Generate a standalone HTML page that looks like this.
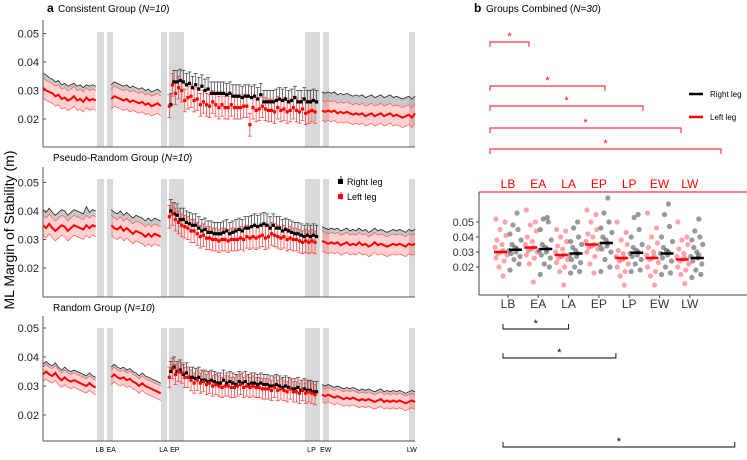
<!DOCTYPE html>
<html><head><meta charset="utf-8"><style>
body{margin:0;background:#fff;font-family:"Liberation Sans",sans-serif}
svg text{font-family:"Liberation Sans",sans-serif}
</style></head><body>
<svg id="fig" width="747" height="455" viewBox="0 0 747 455">
<text x="47" y="12" font-size="12" font-weight="bold">a</text>
<text x="58" y="12" font-size="10">Consistent Group (<tspan font-style="italic">N=10</tspan>)</text>
<text x="53" y="161" font-size="10">Pseudo-Random Group (<tspan font-style="italic">N=10</tspan>)</text>
<text x="53" y="311" font-size="10">Random Group (<tspan font-style="italic">N=10</tspan>)</text>
<text x="14" y="230" font-size="14" text-anchor="middle" transform="rotate(-90 14 230)">ML Margin of Stability (m)</text>
<text x="474" y="12" font-size="12" font-weight="bold">b</text>
<text x="486" y="12" font-size="10">Groups Combined (<tspan font-style="italic">N=30</tspan>)</text>
<g>
<line x1="689" y1="94" x2="703" y2="94" stroke="#000" stroke-width="2.5"/><text x="710" y="97" font-size="8">Right leg</text>
<line x1="689" y1="117" x2="703" y2="117" stroke="#f00" stroke-width="2.5"/><text x="710" y="120" font-size="8">Left leg</text>
</g>
<g>
<line x1="341" y1="176" x2="341" y2="184" stroke="#000" stroke-width="0.8"/><rect x="338" y="179" width="5" height="5" fill="#000"/>
<text x="347" y="185" font-size="9">Right leg</text>
<line x1="341" y1="192" x2="341" y2="200" stroke="#f00" stroke-width="0.8"/><rect x="338" y="194" width="5" height="5" fill="#f00"/>
<text x="347" y="200" font-size="9">Left leg</text>
</g>
</svg>
<script>
const NS='http://www.w3.org/2000/svg';
const svg=document.getElementById('fig');
function mk(tag,at,parent){const e=document.createElementNS(NS,tag);for(const k in at)e.setAttribute(k,at[k]);(parent||svg).appendChild(e);return e;}

// ---------- Panel a data (values in mm, i.e. 0.001 m) ----------
const p1Seg1L=[31,30,29.5,29,28,28.5,27,27.5,26.5,27,28,26.5,27,26,27.5,26.5,27,26.5];
const p1Seg1R=[32.5,32,31,30.5,29.5,30,28.5,29,28,28.5,29,28,28.5,27.5,28.5,28,28.5,28];
const p1Seg2L=[27,28,27.5,27,26.5,27,26,26.5,26,25.5,26,25,25.5,24.5,25,25.5,24.5];
const p1Seg2R=[28.5,29.5,29,28.5,28,28.5,27.5,28,27.5,27,27.5,26.5,27,26,26.5,27,26];
const p1DotL=[24.5,32,29,31,30,26.5,27.5,28,26.5,27,25,26,25,24.5,26,25,24,25,24,24,25,24,24,24,24.5,24.5,18,24,23,23.5,24.5,23.5,23,23,22.5,24,23,23.5,22.5,23,24,23,22.5,23.5,22,22.5,23,22.5];
const p1DotR=[25,33,33,33.5,33,32,32.5,31,32,30.5,31.5,30,30.5,29,29,29,29,29,28.5,29,28,28,28,27.5,28,28,27.5,28,27,28.5,26,26,26,26,26.5,27,26.5,27,26,26.5,27.5,26,26,27,26,26,26.5,26];
const p1Seg4L=[23,22.5,23,22.5,23,22,22.5,22,22.5,22,21.5,22,21.5,22,21,21.5,22,21,21.5,22,21,21.5,22,21,21.5,21,20.5,21,21.5,20.5,22];
const p1Seg4R=[26,25.5,26,25.5,26,25,25.5,25,25.5,25,24.5,25,24.5,25,24,24.5,25,24,24.5,25,24,24.5,25,24,24.5,24,23.5,24,24.5,23.5,24.5];

const p2Seg1L=[35,34,35.5,34,33,34,35,34.5,33,34,35,34.5,34,33.5,35,34,35,34.5];
const p2Seg1R=[37,36,37.5,36,35,36,37,36.5,35,36,37,36.5,36,35.5,38,36,37,36.5];
const p2Seg2L=[35,34,33.5,34.5,33,34,33,32,33,32.5,32,31,32,31,32,31.5,31];
const p2Seg2R=[37,36,35.5,36.5,35,36,35,34,35,34.5,34,33,34,33,34,33.5,33];
const p2DotL=[38,39,37,36,35,34.5,34,33,33,32,31,31.5,30.5,30.5,30,30,29.5,30,30,29.5,30,30,30,30.5,30,31,30.5,31,30.5,31,31.5,30.5,31,32,31.5,31,30.5,31,30,30.5,30,30,29.5,29,29.5,29,29.5,29];
const p2DotR=[40,39,38.5,37,37,36,35.5,35,35,34,33,33.5,32.5,32.5,32,32,32,32.5,33,32,32.5,33,33.5,33,34,34,34.5,35,34.5,35,35.5,35,34,35,34,34,33,33.5,33,32.5,32,32,31.5,31,31.5,31,31.5,31];
const p2Seg4L=[29.5,29,28.5,29,28.5,29,28,28.5,29,28,28.5,28,29,28,28.5,27.5,28,29,28,28.5,28,27.5,28,28.5,28,28.5,28,27.5,28.5,28,28.5];
const p2Seg4R=[31,30.5,30,30.5,30,30.5,29.5,30,30.5,29.5,30,29.5,30.5,29.5,30,29,29.5,30.5,29.5,30,29.5,29,29.5,30,29.5,30,29.5,29,30,29.5,30];

const p3Seg1L=[34,35,34,33.5,34.5,33,32,33,32,31.5,32,31.5,31,30.5,30,31,30,29.5];
const p3Seg1R=[35,36,35,34.5,35.5,34,33,34,33,32.5,33,32.5,32,31.5,31,32,31,30.5];
const p3Seg2L=[33,34,33,32.5,33,32,32.5,31.5,31,30,31,30,29.5,29,28.5,28,27.5];
const p3Seg2R=[34,35,34,33.5,34,33,33.5,32.5,32,31,32,31,30.5,30,29.5,29,28.5];
const p3DotL=[33,36,34,35,34.5,33,33,32,31,32,31,31.5,30.5,31,30,30.5,30,29.5,30,30,29.5,29.5,30,30.5,29.5,30,29.5,30,29.5,29.5,29,29,29,28.5,29.5,28.5,29,28.5,28,29,28,28,27.5,28.5,27.5,28,27.5,27];
const p3DotR=[35,36.5,35,35.5,34,34.5,33,33,32.5,33,32,32,31.5,32,31.5,31,31,32,31,31.5,31,30.5,31.5,31,31.5,30.5,31,31,30.5,31,30.5,30.5,30,30,30.5,30,29.5,30,29.5,29,29,29.5,28.5,29,28.5,28.5,28,28];
const p3Seg4L=[27,26.5,27,26.5,26,26.5,26,25.5,26,25.5,26,25.5,25,25.5,25,25.5,25,24.5,25,25.5,24.5,25,24.5,25,24.5,25,24.5,24,24.5,25,24.5];
const p3Seg4R=[28,27.5,28,27.5,27,27.5,27,26.5,27,26.5,27,26.5,26,26.5,26,26.5,26,25.5,26,26.5,25.5,26,25.5,26,25.5,26,25.5,25,25.5,26,25.5];

const bandSD=[3.5,3.5,2.5];
const dotSD=[4,4,3.5];
const yTicks=[20,30,40,50];
const yTickLabels=['0.02','0.03','0.04','0.05'];
const phaseLabels=['LB','EA','LA','EP','LP','EW','LW'];
const phaseTrials=[18.3,22,38.9,42.5,86.6,91.2,119];

const panels=[
 {name:'consistent',top:20,bot:147,y20:119,k:2.85,s1:[p1Seg1L,p1Seg1R],s2:[p1Seg2L,p1Seg2R],d:[p1DotL,p1DotR],s4:[p1Seg4L,p1Seg4R]},
 {name:'pseudo-random',top:167,bot:297,y20:268,k:2.85,s1:[p2Seg1L,p2Seg1R],s2:[p2Seg2L,p2Seg2R],d:[p2DotL,p2DotR],s4:[p2Seg4L,p2Seg4R]},
 {name:'random',top:316,bot:441,y20:415,k:2.9,s1:[p3Seg1L,p3Seg1R],s2:[p3Seg2L,p3Seg2R],d:[p3DotL,p3DotR],s4:[p3Seg4L,p3Seg4R]}
];
const X0=43,X1=415;
const xT=t=>X0+t*3.1;
const grayBars=[[97,104],[107,113],[161,167],[169,184],[305,320],[323,329],[409,415]];

panels.forEach((P,pi)=>{
 const yS=v=>P.y20-(v-20)*P.k;
 const g=mk('g',{});
 
 
 const gt=P.top+12;
 grayBars.forEach(b=>{const r=mk('rect',{x:b[0],y:gt,width:b[1]-b[0],height:P.bot-gt,fill:'#d9d9d9'},g);
  
  });
 const sd=bandSD[pi];
 [[P.s1,0],[P.s2,22],[P.s4,90]].forEach(([s,t0])=>{
  const L=s[0],R=s[1];
  const up=L.map((v,i)=>[xT(t0+i),yS(v+sd)]);
  const lo=L.map((v,i)=>[xT(t0+i),yS(v-sd)]);
  const rup=R.map((v,i)=>[xT(t0+i),yS(v+sd)]);
  const pts=a=>a.map(p=>p[0].toFixed(1)+','+p[1].toFixed(1)).join(' ');
  const gf=mk('polygon',{points:pts(rup)+' '+pts(up.slice().reverse()),fill:'#9a9a9a','fill-opacity':0.55},g);
  
  
  const rf=mk('polygon',{points:pts(up)+' '+pts(lo.slice().reverse()),fill:'#ff0000','fill-opacity':0.18},g);
  
  
  mk('polyline',{points:pts(rup),fill:'none',stroke:'#222','stroke-width':0.8},g);
  mk('polyline',{points:pts(up),fill:'none',stroke:'#f44','stroke-width':0.6},g);
  mk('polyline',{points:pts(lo),fill:'none',stroke:'#f44','stroke-width':0.6},g);
  const ml=mk('polyline',{points:pts(L.map((v,i)=>[xT(t0+i),yS(v)])),fill:'none',stroke:'#f00','stroke-width':2},g);
  
  
 });
 const es=dotSD[pi];
 P.d[1].forEach((v,i)=>{const x=xT(41+i)+0.8;
  mk('line',{x1:x,y1:yS(v),x2:x,y2:yS(v+es),stroke:'#333','stroke-width':0.7},g);
  mk('line',{x1:x-2,y1:yS(v+es),x2:x+2,y2:yS(v+es),stroke:'#333','stroke-width':0.7},g);
 });
 P.d[0].forEach((v,i)=>{const x=xT(41+i)-0.8;
  mk('line',{x1:x,y1:yS(v+es),x2:x,y2:yS(v-es),stroke:'#f33','stroke-width':0.7},g);
  mk('line',{x1:x-2,y1:yS(v-es),x2:x+2,y2:yS(v-es),stroke:'#f33','stroke-width':0.7},g);
  mk('line',{x1:x-2,y1:yS(v+es),x2:x+2,y2:yS(v+es),stroke:'#f33','stroke-width':0.7},g);
 });
 P.d[1].forEach((v,i)=>{const r=mk('rect',{x:xT(41+i)+0.8-1.6,y:yS(v)-1.6,width:3.2,height:3.2,fill:'#000'},g);
  
  });
 P.d[0].forEach((v,i)=>{const r=mk('rect',{x:xT(41+i)-0.8-1.6,y:yS(v)-1.6,width:3.2,height:3.2,fill:'#f00'},g);
  
  });
 mk('line',{x1:X0,y1:P.top,x2:X0,y2:P.bot,stroke:'#555','stroke-width':1},g);
 mk('line',{x1:X0,y1:P.bot,x2:X1,y2:P.bot,stroke:'#555','stroke-width':1},g);
 yTicks.forEach((t,i)=>{mk('line',{x1:X0,y1:yS(t),x2:X0+3,y2:yS(t),stroke:'#555'},g);
  const tx=mk('text',{x:X0-4,y:yS(t)+4,'font-size':11,'text-anchor':'end',fill:'#222'},g);tx.textContent=yTickLabels[i];
  
  });
 if(pi===2){phaseLabels.forEach((l,i)=>{const tx=mk('text',{x:xT(phaseTrials[i]),y:452,'font-size':7,'text-anchor':'middle'},g);tx.textContent=l;
  
  });}
});

// ---------- Panel b data ----------
const cats=['LB','EA','LA','EP','LP','EW','LW'];
const leftMeans=[30,33,28,35,26,26,25];
const rightMeans=[31.5,32,29,36,29.5,29,26];
const leftPts=[[52,50,45,41,38,35,33,31,30,29,28,26,24,20,14],[58,50,48,44,40,37,35,33,32,31,30,28,26,22,10],[45,44,40,37,34,32,30,28,27,26,25,23,20,17,8],[58,55,50,45,42,40,37,35,34,33,32,30,27,22,16],[50,43,38,35,31,29,27,26,25,24,22,20,17,14,8],[56,46,40,36,33,30,28,27,26,25,23,20,17,14,8],[50,40,38,35,32,29,27,26,25,24,22,20,18,15,9]];
const rightPts=[[56,48,45,42,38,35,33,32,31,30,29,27,25,22,18],[53,52,50,45,38,35,33,32,31,30,28,26,22,20,15],[50,46,40,37,35,33,31,29,28,27,25,23,20,17,16],[66,56,50,46,43,40,38,36,35,34,32,30,25,20,17],[55,53,45,40,35,33,31,30,29,28,27,25,22,18,17],[62,55,47,40,37,33,31,30,29,28,26,24,20,16,15],[52,44,40,38,35,33,30,28,27,26,24,22,18,15,13]];
const topSig=[[0,1],[0,3],[0,4],[0,5],[0,6]];
const botSig=[[0,2],[0,3],[0,6]];

const bx=i=>508+i*30.3;
const by=v=>267-(v-20)*1.5;
const jit=[-5,4,-1,5,-4,1,-6,2,0,-3,6,-5,3,-2,2];
const gb=mk('g',{});


mk('line',{x1:479,y1:192,x2:747,y2:192,stroke:'#f00','stroke-width':1},gb);
mk('line',{x1:479,y1:192,x2:479,y2:295,stroke:'#444'},gb);
mk('line',{x1:479,y1:295,x2:747,y2:295,stroke:'#444'},gb);
yTicks.forEach((t,i)=>{mk('line',{x1:476,y1:by(t),x2:479,y2:by(t),stroke:'#444'},gb);
 const tx=mk('text',{x:474,y:by(t)+4,'font-size':11,'text-anchor':'end',fill:'#333'},gb);tx.textContent=yTickLabels[i];
 
 });
cats.forEach((c,i)=>{
 const t1=mk('text',{x:bx(i),y:188,'font-size':12,'text-anchor':'middle',fill:'#f00'},gb);t1.textContent=c;
 
 
 const t2=mk('text',{x:bx(i),y:308,'font-size':12,'text-anchor':'middle',fill:'#333'},gb);t2.textContent=c;
 
 
 mk('line',{x1:bx(i),y1:295,x2:bx(i),y2:298,stroke:'#444'},gb);
 leftPts[i].forEach((v,j)=>{const d=mk('circle',{cx:bx(i)-7+jit[j],cy:by(v),r:2.6,fill:'#ff3040','fill-opacity':0.45},gb);
  
  });
 rightPts[i].forEach((v,j)=>{const d=mk('circle',{cx:bx(i)+7+jit[14-j],cy:by(v),r:2.6,fill:'#333','fill-opacity':0.5},gb);
  
  });
 const lm=mk('line',{x1:bx(i)-14,y1:by(leftMeans[i]),x2:bx(i)-1,y2:by(leftMeans[i]),stroke:'#f00','stroke-width':2.5},gb);
 
 
 const rm=mk('line',{x1:bx(i)+1,y1:by(rightMeans[i]),x2:bx(i)+14,y2:by(rightMeans[i]),stroke:'#000','stroke-width':2.5},gb);
 
 
});
const topY=[42,86,106,128,149];
const topEnds=[0,529,0,605,643,681,721];
topSig.forEach((s,i)=>{const x1=bx(s[0])-18;
 const xa=topEnds[s[1]];
 const y=topY[i];
 const p=mk('path',{d:`M${x1} ${y+5}V${y}H${xa}V${y+5}`,fill:'none',stroke:'#f00','stroke-width':0.9},gb);
 
 
 const st=mk('text',{x:(x1+xa)/2,y:y-2,'font-size':11,'text-anchor':'middle',fill:'#f00'},gb);st.textContent='*';});
const botY=[329,358,447];
const botOff=[0,0,0,17,0,0,45];
botSig.forEach((s,i)=>{const x1=bx(s[0])-5,x2=bx(s[1])+botOff[s[1]];
 const y=botY[i];
 const p=mk('path',{d:`M${x1} ${y-5}V${y}H${x2}V${y-5}`,fill:'none',stroke:'#000','stroke-width':0.9},gb);
 
 
 const st=mk('text',{x:(x1+x2)/2,y:y-2,'font-size':11,'text-anchor':'middle'},gb);st.textContent='*';});
</script>
</body></html>
